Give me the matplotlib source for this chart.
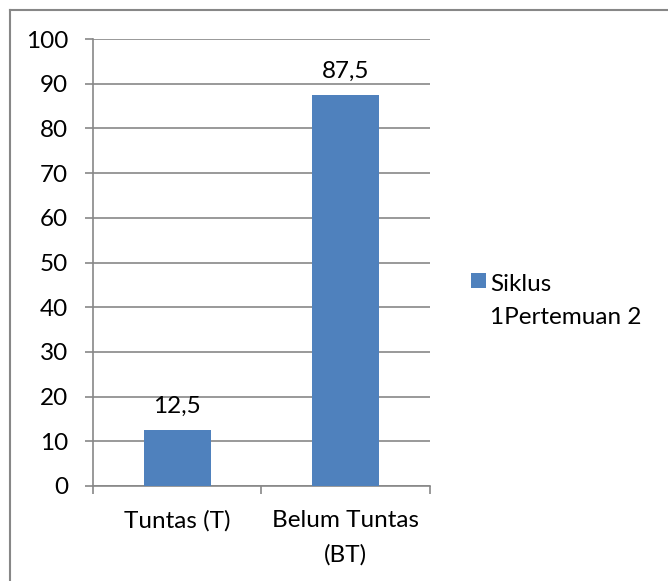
import matplotlib
matplotlib.use("Agg")
import matplotlib.pyplot as plt
from matplotlib.lines import Line2D
from matplotlib.patches import Rectangle
from matplotlib.container import BarContainer
from matplotlib.legend_handler import HandlerPatch, update_from_first_child

# data
kategori = ["Tuntas (T)", "Belum Tuntas\n(BT)"]
nilai = [12.5, 87.5]
label_nilai = ["12,5", "87,5"]
nama_seri = "Siklus\n1Pertemuan 2"
yticks = [0, 10, 20, 30, 40, 50, 60, 70, 80, 90, 100]

plt.rcParams['font.family'] = ['Lato', 'DejaVu Sans']
warna = "#4F81BD"
abu = "#878787"
fs = 17.5

fig = plt.figure(figsize=(6.68, 5.81), dpi=100)
ax = fig.add_axes([93 / 668, 1 - 486 / 581, 337 / 668, 447 / 581])

pos = list(range(len(kategori)))
bars = ax.bar(pos, nilai, width=0.4, color=warna, label=nama_seri, zorder=3)
for b, t in zip(bars, label_nilai):
    ax.annotate(t, (b.get_x() + b.get_width() / 2, b.get_height()),
                xytext=(0, 12.5), textcoords="offset points",
                ha="center", va="baseline", fontsize=fs)

ax.set_xlim(-0.5, len(kategori) - 0.5)
ax.set_ylim(0, 100)
ax.set_yticks(yticks)
ax.set_yticklabels([str(v) for v in yticks], fontsize=fs)
ax.yaxis.grid(True, color=abu, linewidth=1.2, zorder=0)
ax.tick_params(axis="y", length=6, width=1.2, color=abu, pad=12)

ax.set_xticks(pos)
ax.set_xticklabels(kategori, fontsize=fs, linespacing=1.7)
ax.set_xticks([p - 0.5 for p in pos] + [pos[-1] + 0.5], minor=True)
ax.tick_params(axis="x", which="major", length=0, pad=17.5)
ax.tick_params(axis="x", which="minor", length=6, width=1.2, color=abu)

for s in ["top", "right"]:
    ax.spines[s].set_visible(False)
for s in ["left", "bottom"]:
    ax.spines[s].set_color(abu)
    ax.spines[s].set_linewidth(1.2)


# kotak legenda sejajar dengan baris pertama
def kotak_atas(legend, orig_handle, xdescent, ydescent, width, height, fontsize):
    return Rectangle((-xdescent, -ydescent + 14.5), width, height)


leg = ax.legend(loc="upper left", bbox_to_anchor=(471 / 668, 1 - 274 / 581),
                bbox_transform=fig.transFigure, frameon=False, fontsize=fs,
                handlelength=0.6, handleheight=0.6, handletextpad=0.2,
                borderaxespad=0, borderpad=0,
                handler_map={BarContainer: HandlerPatch(
                    patch_func=kotak_atas, update_func=update_from_first_child)})
for t in leg.get_texts():
    t.set_linespacing(1.7)

# border of chart area (only left and top visible)
fig.add_artist(Line2D([10 / 668, 10 / 668], [0, 1 - 9.5 / 581],
                      transform=fig.transFigure, color=abu, linewidth=1.5))
fig.add_artist(Line2D([10 / 668, 1], [1 - 9.5 / 581, 1 - 9.5 / 581],
                      transform=fig.transFigure, color=abu, linewidth=1.5))

plt.savefig("out.png", dpi=100)
